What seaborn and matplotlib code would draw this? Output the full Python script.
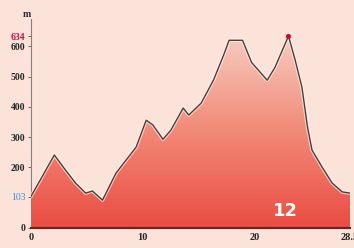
import numpy as np
import pandas as pd
import seaborn as sns
import matplotlib.pyplot as plt
import matplotlib.patheffects as pe
from matplotlib.colors import LinearSegmentedColormap

# profil etape 12 (km, altitude m)
km = [0, 2.1, 3.1, 4.0, 4.9, 5.5, 6.4, 7.6, 9.4, 10.3, 10.9, 11.8, 12.5,
      13.6, 14.1, 15.2, 16.3, 17.2, 17.7, 18.9, 19.7, 21.1, 21.8, 23.0,
      23.6, 24.2, 24.7, 25.1, 26.0, 26.9, 27.8, 28.5]
alt = [103, 241, 191, 148, 115, 122, 92, 181, 267, 356, 340, 293, 323,
       396, 373, 412, 488, 570, 620, 620, 547, 488, 531, 634,
       554, 465, 333, 257, 201, 148, 119, 115]
yticks = [0, 200, 300, 400, 500, 600]
xticks = [0, 10, 20, 28.5]
xlabels = ['0', '10', '20', '28.5']
alt_min_label = 103
alt_max_label = 634
stage = '12'

df = pd.DataFrame({'km': km, 'alt': alt})

bg = '#fbe3da'
sns.set_style('white')
plt.rcParams['font.family'] = ['Liberation Serif', 'DejaVu Serif']

fig = plt.figure(figsize=(3.54, 2.48), dpi=100, facecolor=bg)
ax = fig.add_axes([0.087, 0.081, 0.902, 0.842])
ax.set_facecolor(bg)

# degrade rouge sous la courbe
cmap = LinearSegmentedColormap.from_list('prof', ['#ea4c42', '#f28a78', '#f7cfc2'])
grad = np.linspace(0, 1, 256).reshape(-1, 1)
im = ax.imshow(grad, extent=[0, 28.5, 0, 650], origin='lower', aspect='auto',
               cmap=cmap, zorder=1)
poly = ax.fill_between(df['km'], df['alt'], 0, color='none', zorder=1)
im.set_clip_path(poly.get_paths()[0], transform=ax.transData)

sns.lineplot(data=df, x='km', y='alt', ax=ax, color='#4a3c3a', linewidth=1.0,
             zorder=3, path_effects=[pe.Stroke(linewidth=2.6, foreground='#fff3ee', alpha=0.7),
                                      pe.Normal()])

# sommet
imax = int(np.argmax(alt))
ax.scatter([km[imax]], [alt[imax]], s=14, color='#c8102e', zorder=4, linewidths=0)

ax.set_xlim(0, 28.5)
ax.set_ylim(0, 690)
ax.set_xlabel('')
ax.set_ylabel('')

ax.set_yticks(yticks + [alt_min_label, alt_max_label])
ylab = [str(v) for v in yticks] + [str(alt_min_label), str(alt_max_label)]
ax.set_yticklabels(ylab, fontsize=7, fontweight='bold')
for t in ax.get_yticklabels():
    if t.get_text() == str(alt_max_label):
        t.set_color('#d0103a')
    elif t.get_text() == str(alt_min_label):
        t.set_color('#3b8fd6')
        t.set_fontweight('normal')
ax.set_xticks(xticks)
ax.set_xticklabels(xlabels, fontsize=7.5, fontweight='bold')
ax.tick_params(axis='y', length=2, width=0.6, color='#555555', pad=2, direction='out', left=True)
ax.tick_params(axis='x', length=0, pad=4)

for s in ['top', 'right']:
    ax.spines[s].set_visible(False)
ax.spines['left'].set_color('#8a7e7a')
ax.spines['left'].set_linewidth(0.8)
ax.spines['bottom'].set_color('#7a1c1c')
ax.spines['bottom'].set_linewidth(1.5)
ax.spines['bottom'].set_zorder(5)

ax.text(0, 1.0, 'm', transform=ax.transAxes, ha='right', va='bottom',
        fontsize=7, fontweight='bold')

ax.text(km[imax] - 0.3, 55, stage, color='white', fontsize=13, fontweight='bold',
        family=['DejaVu Sans'], ha='center', va='center', zorder=5)

fig.savefig('out.png', dpi=100, facecolor=bg)
